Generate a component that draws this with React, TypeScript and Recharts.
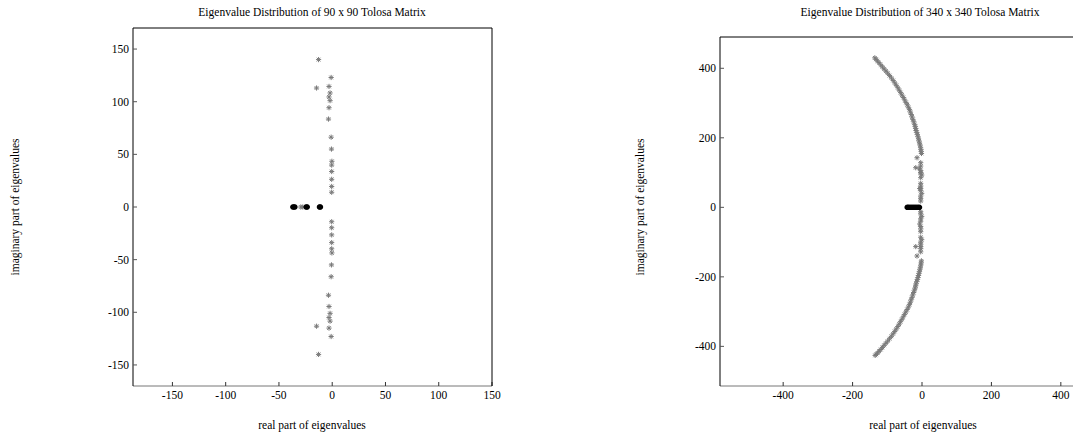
import React from 'react';
import { ScatterChart, Scatter, XAxis, YAxis } from 'recharts';

// 90 x 90 Tolosa matrix: isolated eigenvalues (grey stars)
const re90Sparse = [
  -0.5, -0.5, -0.5, -0.5, -0.5, -0.3, -0.7, -1, -3.5, -3, -2, -3, -2, -14.7, -3, -1, -12.8,
  -0.5, -0.5, -0.5, -0.5, -0.5, -0.3, -0.7, -1, -3.5, -3, -2, -3, -2, -14.7, -3, -1, -12.8,
  -29.5, -27.6,
];
const im90Sparse = [
  14, 19.5, 26.3, 33.7, 39.8, 43.4, 55, 66.3, 83.5, 94.3, 101, 104.5, 108.3, 113, 114.5, 123, 140,
  -14, -19.7, -26.5, -33.8, -39.7, -43.6, -55, -66.2, -83.8, -94.5, -101, -105, -108.4, -113.2, -115, -123, -140,
  0, 0,
];
// real eigenvalues piled up on the axis (black)
const re90Dense = [-37, -36.3, -35.6, -35, -24.5, -24, -23.4, -12, -11.5, -11];

// 340 x 340 Tolosa matrix: the two arcs
const re340Arc = [
  -1.5, -2.3, -3.2, -4.3, -5.6, -7, -8.6, -10, -11.5, -13.2, -15, -17, -18.2, -19.5, -21.5, -23.8,
  -26.2, -28.6, -31, -33.5, -36, -39.2, -42.6, -46.2, -50, -53.8, -57.7, -61.6, -65.6, -69.6, -74,
  -78.5, -83, -88, -93.5, -99, -104, -109, -114, -119, -124, -128.5, -132.5, -136,
  -1.7, -2.5, -3.4, -4.5, -5.8, -7.2, -8.7, -10.2, -11.7, -13.4, -15.2, -17.2, -18.4, -19.7, -21.7, -24,
  -26.4, -28.8, -31.2, -33.7, -36.2, -39.4, -42.8, -46.4, -50.2, -54, -57.9, -61.8, -65.8, -69.8, -74.2,
  -78.7, -83.2, -88.2, -93.6, -99, -104, -109, -114, -118.8, -123.6, -128, -131.8, -135,
];
const im340Arc = [
  155, 161, 167, 173, 179, 185, 191, 197, 203, 209, 215, 221, 227, 233, 239, 246,
  253, 260, 267, 274, 281, 288, 295, 302, 309, 316, 323, 330, 337, 344, 351,
  358, 365, 372, 379, 386, 392, 398, 404, 410, 416, 421, 426, 430,
  -154, -160, -166, -172, -178, -184, -190, -196, -202, -208, -214, -220, -226, -232, -238, -245,
  -252, -259, -266, -273, -280, -287, -294, -301, -308, -315, -322, -329, -336, -343, -350,
  -357, -364, -371, -378, -385, -391, -397, -403, -409, -414, -419, -423, -426,
];
// column near the imaginary axis and the few stragglers beside it
const re340Column = [
  -3.7, -3.7, -6.6, -3.7, -3.7, -3.7, -0.8, -3.7, -3.7, -3.7, -3.7, -6.6, -3.7, -0.8, -3.7, -3.7, -3.7, -14.4, -18,
  -3.7, -3.7, -0.8, -3.7, -3.7, -6.6, -3.7, -3.7, -3.7, -3.7, -0.8, -3.7, -3.7, -3.7, -3.7, -3.7, -18, -14.4,
];
const im340Column = [
  128.4, 118.8, 112.2, 105.5, 99.7, 99, 93, 85.3, 69, 61.3, 54.6, 54, 47.9, 40.2, 32.5, 25.8, 18.1, 142.7, 114,
  -12.6, -19, -26, -33, -40, -48, -55, -62, -70, -86, -93, -100, -106, -113, -119, -128, -113, -140,
];
const re340Dense = [-43, -41, -39, -36, -33, -30, -27, -24, -21, -18, -15, -12, -9, -7];

const ticks90 = [-150, -100, -50, 0, 50, 100, 150];
const ticks340 = [-400, -200, 0, 200, 400];

const toPoints = (re: number[], im: number[]) => re.map((x, i) => ({ x, y: im[i] }));
const onAxis = (re: number[]) => re.map((x) => ({ x, y: 0 }));

const sparse90 = toPoints(re90Sparse, im90Sparse);
const dense90 = onAxis(re90Dense);
const sparse340 = [...toPoints(re340Arc, im340Arc), ...toPoints(re340Column, im340Column)];
const dense340 = onAxis(re340Dense);

const FONT = '"Liberation Serif", "Times New Roman", serif';
const tickStyle = { fontSize: 11.5, fill: '#000', fontFamily: FONT };

const Star = (props: any) => {
  const { cx, cy, fill, strokeWidth } = props;
  if (cx == null || cy == null) return null;
  const r = 2.6;
  const d = r * 0.7071;
  return (
    <path
      d={`M${cx - r},${cy}H${cx + r}M${cx},${cy - r}V${cy + r}M${cx - d},${cy - d}L${cx + d},${cy + d}M${cx - d},${cy + d}L${cx + d},${cy - d}`}
      stroke={fill}
      strokeWidth={strokeWidth || 1}
      fill="none"
    />
  );
};

interface PanelProps {
  width: number;
  margin: { top: number; right: number; bottom: number; left: number };
  xDomain: [number, number];
  yDomain: [number, number];
  ticks: number[];
  sparse: { x: number; y: number }[];
  dense: { x: number; y: number }[];
}

const Panel: React.FC<PanelProps> = ({ width, margin, xDomain, yDomain, ticks, sparse, dense }) => (
  <ScatterChart width={width} height={438} margin={margin}>
    <XAxis
      xAxisId="b"
      type="number"
      dataKey="x"
      domain={xDomain}
      ticks={ticks}
      allowDataOverflow
      height={30}
      tickSize={-4}
      tickMargin={9}
      tick={tickStyle}
      axisLine={{ stroke: '#777' }}
      tickLine={{ stroke: '#333' }}
    />
    <XAxis
      xAxisId="t"
      orientation="top"
      type="number"
      dataKey="x"
      domain={xDomain}
      ticks={ticks}
      allowDataOverflow
      height={1}
      tickSize={-4}
      tick={false}
      axisLine={{ stroke: '#000' }}
      tickLine={{ stroke: '#333' }}
    />
    <YAxis
      yAxisId="l"
      type="number"
      dataKey="y"
      domain={yDomain}
      ticks={ticks}
      allowDataOverflow
      width={40}
      tickSize={-4}
      tickMargin={8}
      tick={tickStyle}
      axisLine={{ stroke: '#000' }}
      tickLine={{ stroke: '#555' }}
    />
    <YAxis
      yAxisId="r"
      orientation="right"
      type="number"
      dataKey="y"
      domain={yDomain}
      ticks={ticks}
      allowDataOverflow
      width={1}
      tickSize={-4}
      tick={false}
      axisLine={{ stroke: '#000' }}
      tickLine={{ stroke: '#333' }}
    />
    <Scatter xAxisId="b" yAxisId="l" data={sparse} fill="#7a7a7a" shape={<Star />} isAnimationActive={false} />
    <Scatter xAxisId="b" yAxisId="l" data={dense} fill="#000" shape={<Star strokeWidth={1.8} />} isAnimationActive={false} />
  </ScatterChart>
);

const textBase: React.CSSProperties = {
  position: 'absolute',
  fontFamily: FONT,
  fontSize: 11.5,
  color: '#000',
  whiteSpace: 'nowrap',
  lineHeight: '14px',
};

const Centered: React.FC<{ x: number; y: number; rotate?: boolean; children: React.ReactNode }> = ({ x, y, rotate, children }) => (
  <div
    style={{
      ...textBase,
      left: x,
      top: y,
      transform: `translate(-50%, -50%)${rotate ? ' rotate(-90deg)' : ''}`,
    }}
  >
    {children}
  </div>
);

export default function App() {
  return (
    <div style={{ position: 'absolute', left: 0, top: 0, width: 1073, height: 438, overflow: 'hidden', background: '#fff' }}>
      <div style={{ position: 'absolute', left: 0, top: 0 }}>
        <Panel
          width={540}
          margin={{ top: 27, right: 47, bottom: 22, left: 93 }}
          xDomain={[-187, 150]}
          yDomain={[-170, 170]}
          ticks={ticks90}
          sparse={sparse90}
          dense={dense90}
        />
      </div>
      <div style={{ position: 'absolute', left: 590, top: 0 }}>
        <Panel
          width={560}
          margin={{ top: 36, right: 25, bottom: 22, left: 90 }}
          xDomain={[-582, 582]}
          yDomain={[-514, 490]}
          ticks={ticks340}
          sparse={sparse340}
          dense={dense340}
        />
      </div>
      <Centered x={312} y={12}>Eigenvalue Distribution of 90 x 90 Tolosa Matrix</Centered>
      <Centered x={312} y={425}>real part of eigenvalues</Centered>
      <Centered x={15} y={207} rotate>imaginary part of eigenvalues</Centered>
      <Centered x={920} y={12}>Eigenvalue Distribution of 340 x 340 Tolosa Matrix</Centered>
      <Centered x={923} y={425}>real part of eigenvalues</Centered>
      <Centered x={640} y={207} rotate>imaginary part of eigenvalues</Centered>
    </div>
  );
}
